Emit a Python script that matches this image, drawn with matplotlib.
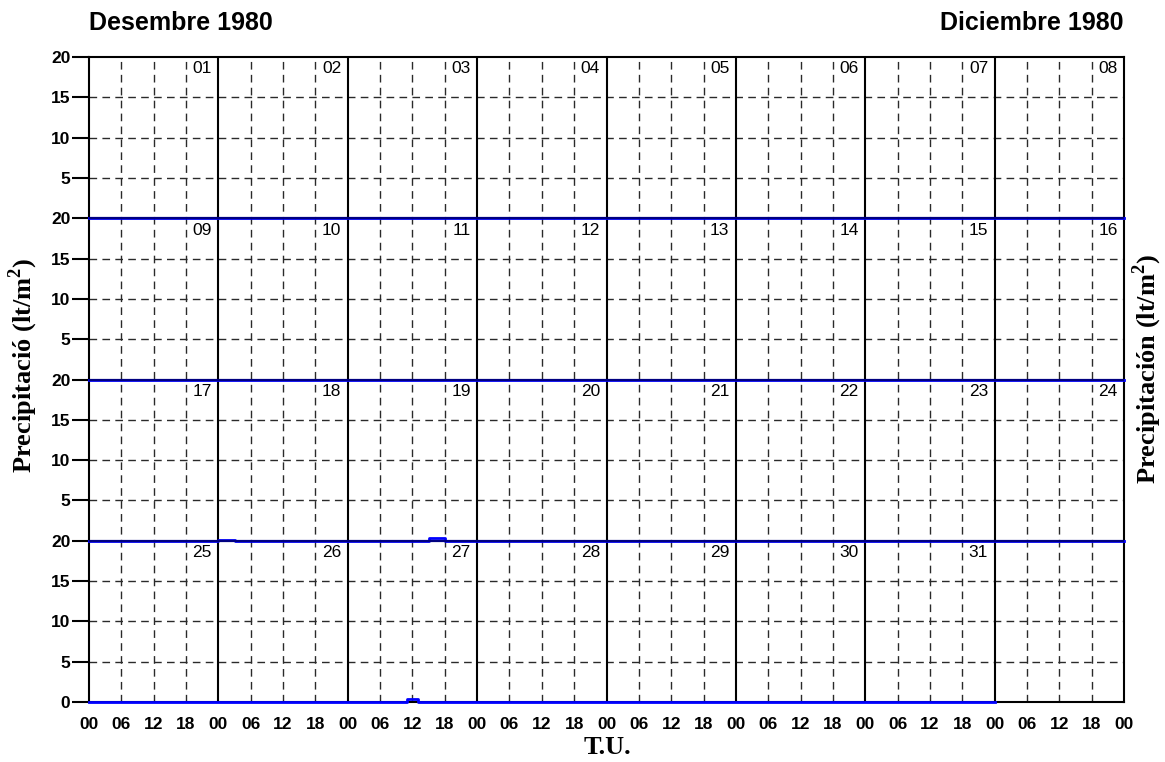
import numpy as np
import matplotlib
matplotlib.use("Agg")
import matplotlib.pyplot as plt

plt.rcParams['mathtext.fontset'] = 'custom'
plt.rcParams['mathtext.rm'] = 'Liberation Serif:bold'
plt.rcParams['mathtext.bf'] = 'Liberation Serif:bold'

# data: December 1980, hourly precipitation (lt/m2), almost all zero
n_days = 31
days_per_row = 8
rain_day = [18, 19, 27]
rain_hour_start = [0, 15, 11]
rain_hour_end = [3, 18, 13]
rain_amount = [0.15, 0.35, 0.35]

hour_labels = ['00', '06', '12', '18']
row_tick_values = [5, 10, 15, 20]
row_height = 20

title_left = 'Desembre 1980'
title_right = 'Diciembre 1980'
ylabel_left = r'Precipitació (lt/m$^{2}$)'
ylabel_right = r'Precipitación (lt/m$^{2}$)'
xlabel = 'T.U.'

precip = np.zeros((n_days, 24))
for d, h0, h1, v in zip(rain_day, rain_hour_start, rain_hour_end, rain_amount):
    precip[d - 1, h0:h1] = v

n_rows = 4
width_h = days_per_row * 24
top_y = n_rows * row_height

W, H = 1165, 762
fig = plt.figure(figsize=(W / 100, H / 100), dpi=100)
ax = fig.add_axes([89 / W, 1 - 702 / H, (1124 - 89) / W, (702 - 57) / H])
ax.set_xlim(0, width_h)
ax.set_ylim(0, top_y)

dash = (0, (5.5, 3.8))
grid_col = '#2a2a2a'

# dashed grid inside each row / day
for r in range(n_rows):
    base = (n_rows - 1 - r) * row_height
    for v in row_tick_values[:-1]:
        ax.plot([0, width_h], [base + v, base + v], color=grid_col, lw=1,
                ls=dash, zorder=1)
for c in range(days_per_row):
    for h in (6, 12, 18):
        ax.plot([c * 24 + h] * 2, [0, top_y], color=grid_col, lw=1,
                ls=dash, zorder=1)
    if c > 0:
        ax.plot([c * 24] * 2, [0, top_y], color='black', lw=1.5, zorder=2)

# precipitation lines, one per row
for r in range(n_rows):
    base = (n_rows - 1 - r) * row_height
    first = r * days_per_row
    last = min(first + days_per_row, n_days)
    if first >= n_days:
        continue
    vals = precip[first:last].ravel()
    xs = np.arange(len(vals) + 1)
    ys = np.append(vals, vals[-1]) + base
    ax.plot(xs, ys, color='#0000ff', lw=2, drawstyle='steps-post', zorder=7,
            clip_on=False)

# row separators
for r in range(1, n_rows):
    ax.plot([0, width_h], [r * row_height] * 2, color='#000080', lw=1.6,
            zorder=8)

# day numbers
for d in range(1, n_days + 1):
    r = (d - 1) // days_per_row
    c = (d - 1) % days_per_row
    base = (n_rows - 1 - r) * row_height
    ax.text(c * 24 + 24 - 1.2, base + row_height - 0.55, f'{d:02d}',
            ha='right', va='top', fontsize=12.5, family='Liberation Sans',
            zorder=9)

# y ticks
yt, yl = [0], ['0']
for r in range(n_rows):
    for v in row_tick_values:
        yt.append(r * row_height + v)
        yl.append(str(v))
ax.set_yticks(yt)
ax.set_yticklabels(yl, fontsize=12.5, fontweight='bold', family='Liberation Sans')
ax.tick_params(axis='y', direction='out', length=12, width=1.5, pad=1.5)

# x ticks
xt = np.arange(0, width_h + 1, 6)
xl = hour_labels * days_per_row + [hour_labels[0]]
ax.set_xticks(xt)
ax.set_xticklabels(xl, fontsize=12.5, fontweight='bold', family='Liberation Sans')
ax.tick_params(axis='x', length=0, pad=11)

for s in ax.spines.values():
    s.set_linewidth(1.5)
    s.set_zorder(6)

fig.text(89 / W, 1 - 23 / H, title_left, ha='left', va='center',
         fontsize=18, fontweight='bold', family='Liberation Sans')
fig.text(1124 / W, 1 - 23 / H, title_right, ha='right', va='center',
         fontsize=18, fontweight='bold', family='Liberation Sans')
fig.text(607 / W, 1 - 747 / H, xlabel, ha='center', va='center',
         fontsize=19, fontweight='bold', family='Liberation Serif')
fig.text(23 / W, 1 - 365 / H, ylabel_left, ha='center', va='center',
         rotation=90, fontsize=19, fontweight='bold', family='Liberation Serif')
fig.text(1147 / W, 1 - 369 / H, ylabel_right, ha='center', va='center',
         rotation=90, fontsize=19, fontweight='bold', family='Liberation Serif')

fig.savefig('out.png', dpi=100)
